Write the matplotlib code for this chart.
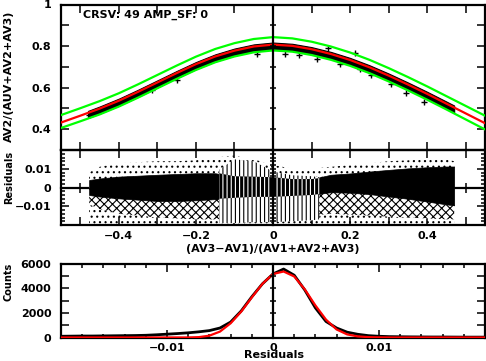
import matplotlib
matplotlib.use('Agg')
from matplotlib import pyplot as plt
from matplotlib.ticker import MultipleLocator, FixedLocator, FuncFormatter

plt.rcParams['font.family'] = ['DejaVu Sans']
plt.rcParams['font.weight'] = 'bold'
plt.rcParams['hatch.linewidth'] = 0.8

# ---- top panel: AV2 ratio vs colour, fit and +/- envelope ----
fit_x = [-0.55, -0.5, -0.45, -0.4, -0.35, -0.3, -0.25, -0.2, -0.15, -0.1, -0.05, 0.0,
         0.05, 0.1, 0.15, 0.2, 0.25, 0.3, 0.35, 0.4, 0.45, 0.5, 0.55]
fit_mid = [0.432, 0.465, 0.499, 0.537, 0.580, 0.625, 0.670, 0.713, 0.750, 0.778, 0.798, 0.807,
           0.801, 0.785, 0.762, 0.733, 0.698, 0.658, 0.615, 0.570, 0.523, 0.476, 0.429]
fit_hi = [0.468, 0.501, 0.535, 0.573, 0.616, 0.661, 0.706, 0.749, 0.786, 0.814, 0.834, 0.843,
          0.837, 0.821, 0.798, 0.769, 0.734, 0.694, 0.651, 0.606, 0.559, 0.512, 0.465]
fit_lo = [0.406, 0.438, 0.471, 0.509, 0.552, 0.597, 0.642, 0.685, 0.722, 0.750, 0.770, 0.779,
          0.773, 0.757, 0.734, 0.705, 0.670, 0.630, 0.587, 0.542, 0.495, 0.447, 0.399]

# extent of the measured points (dense cloud)
band_x = [-0.48, -0.45, -0.4, -0.35, -0.3, -0.25, -0.2, -0.15, -0.1, -0.05, 0.0,
          0.05, 0.1, 0.15, 0.2, 0.25, 0.3, 0.35, 0.4, 0.45, 0.47]
band_hi = [0.488, 0.509, 0.547, 0.590, 0.635, 0.680, 0.723, 0.760, 0.788, 0.808, 0.817,
           0.811, 0.795, 0.772, 0.743, 0.708, 0.668, 0.625, 0.580, 0.533, 0.514]
band_lo = [0.454, 0.475, 0.513, 0.556, 0.601, 0.646, 0.689, 0.726, 0.754, 0.774, 0.783,
           0.777, 0.761, 0.738, 0.709, 0.674, 0.634, 0.591, 0.546, 0.499, 0.480]

# stray points just outside the cloud
out_x = [-0.477, -0.313, -0.25, -0.042, 0.031, 0.067, 0.113, 0.143, 0.173, 0.212, 0.225,
         0.255, 0.306, 0.345, 0.392]
out_y = [0.470, 0.588, 0.636, 0.762, 0.764, 0.756, 0.738, 0.790, 0.712, 0.766, 0.690,
         0.660, 0.618, 0.575, 0.530]

# ---- middle panel: residuals ----
res_x = [-0.477, -0.45, -0.4, -0.35, -0.3, -0.25, -0.2, -0.15, -0.1, -0.05, 0.0,
         0.05, 0.1, 0.15, 0.2, 0.25, 0.3, 0.35, 0.4, 0.45, 0.47]
res_dense_hi = [0.0040, 0.0048, 0.0058, 0.0063, 0.0068, 0.0072, 0.0076, 0.0076, 0.0060, 0.0058, 0.0055,
                0.0045, 0.0045, 0.0068, 0.0075, 0.0085, 0.0094, 0.0102, 0.0108, 0.0112, 0.0112]
res_dense_lo = [-0.0040, -0.0048, -0.0058, -0.0065, -0.0072, -0.0072, -0.0068, -0.0062, -0.0055, -0.0050, -0.0050,
                -0.0045, -0.0040, -0.0025, -0.0028, -0.0035, -0.0048, -0.0060, -0.0075, -0.0090, -0.0095]
res_mottle_lo = [-0.0090, -0.0115, -0.0140, -0.0150, -0.0160, -0.0165, -0.0170, -0.0170, -0.0165, -0.0165, -0.0160,
                 -0.0155, -0.0150, -0.0140, -0.0145, -0.0150, -0.0155, -0.0160, -0.0165, -0.0170, -0.0170]
res_sparse_hi = [0.0080, 0.0110, 0.0130, 0.0135, 0.0140, 0.0140, 0.0145, 0.0160, 0.0170, 0.0150, 0.0120,
                 0.0100, 0.0100, 0.0110, 0.0120, 0.0130, 0.0140, 0.0145, 0.0150, 0.0150, 0.0140]
res_sparse_lo = [-0.0195] * len(res_x)

stripe_x = [-0.14, -0.1, -0.05, 0.0, 0.05, 0.1, 0.12]
stripe_hi = [0.0095, 0.0150, 0.0140, 0.0085, 0.0065, 0.0060, 0.0055]
stripe_lo = [-0.0190, -0.0190, -0.0185, -0.0185, -0.0180, -0.0175, -0.0170]
stripe_band_hi = [0.0076, 0.0060, 0.0058, 0.0055, 0.0045, 0.0045, 0.0050]
stripe_band_lo = [-0.0060, -0.0055, -0.0050, -0.0050, -0.0045, -0.0040, -0.0035]

# ---- bottom panel: histogram of residuals and gaussian fit ----
hist_x = [-0.020, -0.019, -0.018, -0.017, -0.016, -0.015, -0.014, -0.013, -0.012, -0.011,
          -0.010, -0.009, -0.008, -0.007, -0.006, -0.005, -0.004, -0.003, -0.002, -0.001,
          0.000, 0.001, 0.002, 0.003, 0.004, 0.005, 0.006, 0.007, 0.008, 0.009,
          0.010, 0.011, 0.012, 0.013, 0.014, 0.015, 0.016, 0.017, 0.018, 0.019, 0.020]
hist_counts = [100, 110, 120, 120, 130, 140, 150, 160, 180, 220,
               270, 320, 380, 460, 560, 770, 1250, 2150, 3300, 4350,
               5150, 5550, 5050, 3850, 2400, 1300, 770, 430, 260, 150,
               100, 70, 60, 50, 45, 40, 40, 35, 30, 30, 30]
gauss_counts = [0, 0, 0, 0, 0, 0, 0, 0, 0, 0,
                0, 0, 0, 30, 150, 480, 1150, 2100, 3250, 4350,
                5150, 5350, 4950, 3900, 2600, 1450, 650, 250, 90, 30,
                10, 0, 0, 0, 0, 0, 0, 0, 0, 0, 0]

W, H = 486, 361
fig = plt.figure(figsize=(W / 100, H / 100), dpi=100)


def rect(x0, y0, x1, y1):
    return [x0 / W, 1 - y1 / H, (x1 - x0) / W, (y1 - y0) / H]


def fmt(v, pos):
    if abs(v) < 1e-12:
        return '0'
    return ('%g' % round(v, 6)).replace('-', '\u2212')


def style(ax):
    for s in ax.spines.values():
        s.set_linewidth(1.6)
    ax.tick_params(which='both', direction='in', top=True, right=True, width=1.1,
                   labelsize=8, colors='black')
    ax.tick_params(which='major', length=5.5)
    ax.tick_params(which='minor', length=3)


def centre_line(ax, where, locator, z, length=5):
    # extra axis line drawn through zero, IDL style
    ov = fig.add_axes(ax.get_position(), zorder=z)
    ov.set_xlim(ax.get_xlim())
    ov.set_ylim(ax.get_ylim())
    ov.patch.set_visible(False)
    for s in ov.spines.values():
        s.set_visible(False)
    if where == 'x0':
        ov.spines['left'].set_visible(True)
        ov.spines['left'].set_position(('data', 0))
        ov.spines['left'].set_linewidth(1.6)
        ov.set_xticks([])
        ov.yaxis.set_major_locator(locator)
        ov.tick_params(axis='y', direction='inout', length=length, width=1.1,
                       labelleft=False, right=False)
    else:
        ov.spines['bottom'].set_visible(True)
        ov.spines['bottom'].set_position(('data', 0))
        ov.spines['bottom'].set_linewidth(1.6)
        ov.set_yticks([])
        ov.xaxis.set_major_locator(locator)
        ov.tick_params(axis='x', direction='inout', length=length, width=1.1,
                       labelbottom=False, top=False)
    return ov


# top panel
ax1 = fig.add_axes(rect(61, 4.5, 485, 150))
ax1.fill_between(band_x, band_lo, band_hi, color='black', lw=0.8, zorder=2)
ax1.plot(out_x, out_y, '+', color='black', ms=4, mew=1, zorder=2)
ax1.plot(fit_x, fit_hi, color='#00ff00', lw=1.6, zorder=3)
ax1.plot(fit_x, fit_lo, color='#00ff00', lw=1.6, zorder=3)
ax1.plot(fit_x, fit_mid, color='#ff0000', lw=1.6, zorder=4)
ax1.set_xlim(-0.55, 0.55)
ax1.set_ylim(0.3, 1.0)
ax1.xaxis.set_major_locator(MultipleLocator(0.1))
ax1.yaxis.set_major_locator(FixedLocator([0.4, 0.6, 0.8, 1.0]))
ax1.yaxis.set_minor_locator(MultipleLocator(0.1))
ax1.yaxis.set_major_formatter(FuncFormatter(fmt))
style(ax1)
ax1.tick_params(which='minor', length=5.5)
ax1.tick_params(axis='x', labelbottom=False)
ax1.tick_params(axis='y', pad=7)
centre_line(ax1, 'x0', MultipleLocator(0.1), 5)
fig.text(83 / W, 1 - 15 / H, 'CRSV: 49 AMP_SF: 0', ha='left', va='center', fontsize=8)
fig.text(9 / W, 1 - 76 / H, 'AV2/(AUV+AV2+AV3)', rotation=90, ha='center', va='center', fontsize=8)

# middle panel
ax2 = fig.add_axes(rect(61, 150, 485, 225))
ax2.patch.set_visible(False)
ax2.fill_between(res_x, res_sparse_lo, res_sparse_hi, facecolor='white', edgecolor='black',
                 hatch='...', lw=0, zorder=1)
ax2.fill_between(res_x, res_mottle_lo, res_dense_lo, facecolor='white', edgecolor='black',
                 hatch='xxxx', lw=0, zorder=2)
ax2.fill_between(res_x, res_dense_lo, res_dense_hi, color='black', lw=0.5, zorder=3)
ax2.fill_between(stripe_x, stripe_lo, stripe_hi, facecolor='white', edgecolor='black',
                 hatch='||||', lw=0, zorder=4)
ax2.fill_between(stripe_x, stripe_band_lo, stripe_band_hi, facecolor='black', edgecolor='white',
                 hatch='||||', lw=0, zorder=5)
ax2.set_xlim(-0.55, 0.55)
ax2.set_ylim(-0.02, 0.02)
ax2.xaxis.set_major_locator(MultipleLocator(0.2))
ax2.xaxis.set_minor_locator(MultipleLocator(0.1))
ax2.xaxis.set_major_formatter(FuncFormatter(fmt))
ax2.yaxis.set_major_locator(FixedLocator([-0.01, 0.0, 0.01]))
ax2.yaxis.set_minor_locator(MultipleLocator(0.002))
ax2.yaxis.set_major_formatter(FuncFormatter(fmt))
style(ax2)
ax2.tick_params(which='minor', axis='x', length=5.5)
ax2.tick_params(axis='y', pad=7)
ax2.tick_params(axis='x', pad=4)
centre_line(ax2, 'y0', MultipleLocator(0.1), -1, length=7)
centre_line(ax2, 'x0', MultipleLocator(0.002), 5, length=5)
fig.text(273 / W, 1 - 249 / H, '(AV3\u2212AV1)/(AV1+AV2+AV3)', ha='center', va='center', fontsize=8)
fig.text(9 / W, 1 - 177 / H, 'Residuals', rotation=90, ha='center', va='center', fontsize=7)

# bottom panel
ax3 = fig.add_axes(rect(61, 263.5, 485, 337.5))
ax3.plot(hist_x, hist_counts, color='black', lw=2.0, zorder=2)
ax3.plot(hist_x, gauss_counts, color='#ff0000', lw=1.6, zorder=3)
ax3.set_xlim(-0.02, 0.02)
ax3.set_ylim(0, 6000)
ax3.xaxis.set_major_locator(FixedLocator([-0.01, 0.0, 0.01]))
ax3.xaxis.set_minor_locator(MultipleLocator(0.002))
ax3.xaxis.set_major_formatter(FuncFormatter(fmt))
ax3.yaxis.set_major_locator(MultipleLocator(2000))
ax3.yaxis.set_minor_locator(MultipleLocator(1000))
ax3.yaxis.set_major_formatter(FuncFormatter(fmt))
style(ax3)
ax3.tick_params(which='minor', axis='y', length=5.5)
ax3.tick_params(axis='y', pad=7)
ax3.tick_params(axis='x', pad=4)
centre_line(ax3, 'x0', MultipleLocator(1000), 5, length=5)
fig.text(273.5 / W, 1 - 355.5 / H, 'Residuals', ha='center', va='center', fontsize=8)
fig.text(9 / W, 1 - 282 / H, 'Counts', rotation=90, ha='center', va='center', fontsize=7)

fig.savefig('out.png', dpi=100)
